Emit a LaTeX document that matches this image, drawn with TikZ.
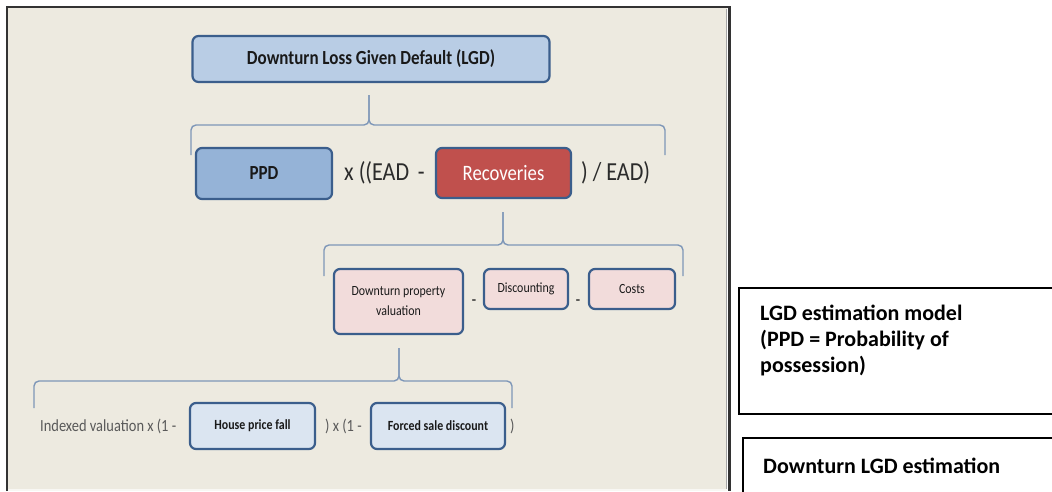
\documentclass[tikz,border=0pt]{standalone}
\usepackage{fontspec}
\setmainfont{Carlito}
\usepackage{graphicx}
\definecolor{panel}{HTML}{EDEAE0}
\definecolor{boxblue}{HTML}{3B5E8C}
\definecolor{bracecol}{HTML}{7E97B8}
\definecolor{titlefill}{HTML}{B9CDE5}
\definecolor{ppdfill}{HTML}{95B3D7}
\definecolor{recfill}{HTML}{C0504D}
\definecolor{pinkfill}{HTML}{F2DCDB}
\definecolor{lightblue}{HTML}{DBE5F1}
\definecolor{exprgrey}{HTML}{2B2B2B}
\definecolor{idxgrey}{HTML}{595959}
\newcommand{\cz}[1]{\scalebox{0.85}[1]{#1}}
\tikzset{
  box/.style={draw=boxblue, line width=2.2pt, rounded corners=6pt, inner sep=0pt, align=center, text=black!90},
  brace/.style={draw=bracecol, line width=1.4pt, rounded corners=5pt},
  rbox/.style={draw=black, line width=2pt, inner sep=0pt, fill=white},
  rtext/.style={font=\fontsize{22}{26}\selectfont\bfseries, align=left, inner sep=0pt, text=black},
}
\begin{document}
\begin{tikzpicture}[x=1pt,y=-1pt]
\useasboundingbox (0,0) rectangle (1052,491);
\fill[white] (0,0) rectangle (1052,491);
% panel
\fill[panel] (8,8) rectangle (727,489);
\fill[panel!40!white] (8,489) rectangle (727,491);
\draw[black!80, line width=2.5pt] (7,491) -- (7,7) -- (729.5,7) -- (729.5,491);
\draw[black!35, line width=0.8pt] (726.5,9) -- (726.5,489);

% level 1
\node[box, fill=titlefill, minimum width=357, minimum height=46,
      font=\fontsize{20}{24}\selectfont\bfseries] (title) at (371,59)
      {\cz{Downturn Loss Given Default (LGD)}};

% brace 1
\coordinate (b1) at (369,95);
\draw[brace] (191,155) -- (191,125) -- (369,125) -- (b1);
\draw[brace] (665,155) -- (665,125) -- (369,125) -- (b1);

% level 2
\node[box, fill=ppdfill, minimum width=136, minimum height=51,
      font=\fontsize{20}{24}\selectfont\bfseries] (ppd) at (264,173.5) {\cz{PPD}};
\node[anchor=west, inner sep=0pt, text=exprgrey, font=\fontsize{26}{30}\selectfont] (e1) at (344,173) {\cz{x ((EAD\, -}};
\node[box, fill=recfill, minimum width=135, minimum height=50, text=white,
      font=\fontsize{22}{26}\selectfont] (rec) at (503.5,173) {\cz{Recoveries}};
\node[anchor=west, inner sep=0pt, text=exprgrey, font=\fontsize{26}{30}\selectfont] (e2) at (581,173) {\cz{) / EAD)}};

% brace 2
\coordinate (b2) at (503,212);
\draw[brace] (324,276) -- (324,245) -- (503,245) -- (b2);
\draw[brace] (683,276) -- (683,245) -- (503,245) -- (b2);

% level 3
\node[box, fill=pinkfill, minimum width=129, minimum height=65,
      font=\fontsize{14}{20}\selectfont] (dpv) at (398.5,301.5)
      {\cz{Downturn property}\\\cz{valuation}};
\node[inner sep=0pt, font=\fontsize{14}{16}\selectfont\bfseries, text=exprgrey] (m1) at (474,302) {-};
\node[box, fill=pinkfill, minimum width=84, minimum height=40,
      font=\fontsize{14}{16}\selectfont] (disc) at (526,289) {\cz{Discounting}};
\node[inner sep=0pt, font=\fontsize{14}{16}\selectfont\bfseries, text=exprgrey] (m2) at (578,302) {-};
\node[box, fill=pinkfill, minimum width=86, minimum height=40,
      font=\fontsize{14}{16}\selectfont] (costs) at (632,289) {\cz{Costs}};

% brace 3
\coordinate (b3) at (399,348);
\draw[brace] (34,408) -- (34,381) -- (399,381) -- (b3);
\draw[brace] (512,408) -- (512,381) -- (399,381) -- (b3);

% level 4
\node[anchor=west, inner sep=0pt, text=idxgrey, font=\fontsize{17}{20}\selectfont] (idx) at (40,426) {\cz{Indexed valuation x (1 -}};
\node[box, fill=lightblue, minimum width=125, minimum height=46,
      font=\fontsize{14}{16}\selectfont\bfseries] (hpf) at (252.5,426) {\raisebox{3pt}{\cz{House price fall}}};
\node[anchor=west, inner sep=0pt, text=idxgrey, font=\fontsize{17}{20}\selectfont] (mid) at (325,426) {\cz{) x (1 -}};
\node[box, fill=lightblue, minimum width=134, minimum height=46,
      font=\fontsize{14}{16}\selectfont\bfseries] (fsd) at (438,426) {\cz{Forced sale discount}};
\node[anchor=west, inner sep=0pt, text=idxgrey, font=\fontsize{17}{20}\selectfont] (close) at (510,426) {\cz{)}};

% right-hand captions
\node[rbox, anchor=north west, minimum width=330, minimum height=126] (cap1) at (738,287) {};
\node[rtext, anchor=north west] (cap1t) at (760,305)
      {LGD estimation model\\(PPD = Probability of\\possession)};
\node[rbox, anchor=north west, minimum width=330, minimum height=70] (cap2) at (742,437) {};
\node[rtext, anchor=west] (cap2t) at (763,466) {Downturn LGD estimation};
\end{tikzpicture}
\end{document}
